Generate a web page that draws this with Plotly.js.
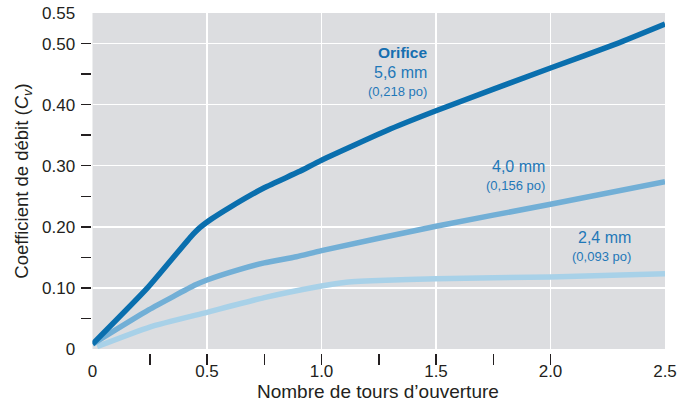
<!DOCTYPE html>
<html>
<head>
<meta charset="utf-8">
<script src="https://cdn.plot.ly/plotly-3.0.1.min.js"></script>
<style>html,body{margin:0;padding:0;background:#fff;}#chart{width:678px;height:401px;}</style>
</head>
<body>
<div id="chart"></div>
<script>
// Data
const turns56 = [0, 0.24, 0.43, 0.47, 0.52, 0.6, 0.75, 0.9, 1.0, 1.3, 1.5, 2.0, 2.29, 2.5];
const cv56    = [0.008, 0.10, 0.184, 0.199, 0.213, 0.232, 0.264, 0.29, 0.309, 0.36, 0.39, 0.46, 0.50, 0.532];

const turns40 = [0, 0.245, 0.45, 0.5, 0.64, 0.75, 0.89, 1.0, 1.5, 2.0, 2.5];
const cv40    = [0.008, 0.064, 0.105, 0.113, 0.130, 0.141, 0.151, 0.161, 0.201, 0.237, 0.274];

const turns24 = [0.02, 0.25, 0.5, 0.75, 1.0, 1.1, 1.25, 1.5, 2.0, 2.5];
const cv24    = [0.004, 0.036, 0.06, 0.084, 0.103, 0.109, 0.112, 0.115, 0.118, 0.123];

const xLabelVals = [0, 0.5, 1.0, 1.5, 2.0, 2.5];
const xLabelText = ['0', '0.5', '1.0', '1.5', '2.0', '2.5'];
const xMinorTicks = [0.25, 0.5, 0.75, 1.0, 1.25, 1.5, 1.75, 2.0];
const yLabelVals = [0, 0.1, 0.2, 0.3, 0.4, 0.5, 0.55];
const yLabelText = ['0', '0.10', '0.20', '0.30', '0.40', '0.50', '0.55'];
const yMinorTicks = [0.05, 0.1, 0.15, 0.2, 0.25, 0.3, 0.35, 0.4, 0.45, 0.5];

const FONT = 'Liberation Sans, Arial, Helvetica, sans-serif';

const traces = [
  {x: turns24, y: cv24, mode: 'lines', line: {color: '#a8d1e8', width: 5.5, shape: 'spline', smoothing: 0.5}, hoverinfo: 'skip'},
  {x: turns40, y: cv40, mode: 'lines', line: {color: '#72afd6', width: 5.5, shape: 'spline', smoothing: 0.5}, hoverinfo: 'skip'},
  {x: turns56, y: cv56, mode: 'lines', line: {color: '#0a6fae', width: 5.5, shape: 'spline', smoothing: 0.5}, hoverinfo: 'skip'},
  {x: [null], y: [null], xaxis: 'x2', yaxis: 'y2', mode: 'lines', hoverinfo: 'skip'}
];

const txt = '#1f78b8';
const layout = {
  width: 678, height: 401,
  margin: {l: 91, r: 13, t: 13, b: 48},
  paper_bgcolor: '#ffffff',
  plot_bgcolor: '#dcdde0',
  showlegend: false,
  font: {family: FONT, size: 17, color: '#231f20'},
  xaxis: {
    domain: [1.5/574, 1], range: [0, 2.5], fixedrange: true,
    tickvals: xLabelVals, ticktext: xLabelText,
    ticks: 'outside', ticklen: 7, tickcolor: 'rgba(0,0,0,0)',
    showgrid: true, gridcolor: '#ffffff', gridwidth: 1.5,
    zeroline: false, showline: false,
    tickfont: {size: 17}
  },
  yaxis: {
    domain: [4/340, 1], range: [0, 0.55], fixedrange: true,
    tickvals: yLabelVals, ticktext: yLabelText,
    ticks: 'outside', ticklen: 13, tickcolor: 'rgba(0,0,0,0)',
    showgrid: true, gridcolor: '#ffffff', gridwidth: 1.5,
    zeroline: false, showline: false,
    tickfont: {size: 17},
    title: {text: 'Coefficient de débit (<i>C</i><sub><i>v</i></sub>)', font: {size: 18.5}, standoff: 8}
  },
  xaxis2: {
    overlaying: 'x', anchor: 'free', position: 0, range: [0, 2.5],
    tickvals: xMinorTicks, ticks: 'outside', ticklen: 11, tickwidth: 1.5, tickcolor: '#231f20',
    showticklabels: false, showgrid: false, zeroline: false, showline: false, fixedrange: true
  },
  yaxis2: {
    overlaying: 'y', anchor: 'free', position: 0, range: [0, 0.55],
    tickvals: yMinorTicks, ticks: 'outside', ticklen: 10, tickwidth: 1.5, tickcolor: '#231f20',
    showticklabels: false, showgrid: false, zeroline: false, showline: false, fixedrange: true
  },
  annotations: [
    {x: 0.5, y: -0.112, xref: 'paper', yref: 'paper', text: 'Nombre de tours d’ouverture', showarrow: false, xanchor: 'center', yanchor: 'middle', font: {size: 19, color: '#231f20'}},
    {x: 1.469, y: 0.486, xref: 'x', yref: 'y', text: '<b>Orifice</b>', showarrow: false, xanchor: 'right', yanchor: 'middle', font: {size: 15.5, color: '#166fb0'}},
    {x: 1.469, y: 0.453, xref: 'x', yref: 'y', text: '5,6 mm', showarrow: false, xanchor: 'right', yanchor: 'middle', font: {size: 16, color: txt}},
    {x: 1.469, y: 0.421, xref: 'x', yref: 'y', text: '(0,218 po)', showarrow: false, xanchor: 'right', yanchor: 'middle', font: {size: 13, color: txt}},
    {x: 1.984, y: 0.298, xref: 'x', yref: 'y', text: '4,0 mm', showarrow: false, xanchor: 'right', yanchor: 'middle', font: {size: 16, color: txt}},
    {x: 1.984, y: 0.267, xref: 'x', yref: 'y', text: '(0,156 po)', showarrow: false, xanchor: 'right', yanchor: 'middle', font: {size: 13, color: txt}},
    {x: 2.36, y: 0.183, xref: 'x', yref: 'y', text: '2,4 mm', showarrow: false, xanchor: 'right', yanchor: 'middle', font: {size: 16, color: txt}},
    {x: 2.36, y: 0.152, xref: 'x', yref: 'y', text: '(0,093 po)', showarrow: false, xanchor: 'right', yanchor: 'middle', font: {size: 13, color: txt}}
  ]
};

Plotly.newPlot('chart', traces, layout, {displayModeBar: false, staticPlot: true});
</script>
</body>
</html>
